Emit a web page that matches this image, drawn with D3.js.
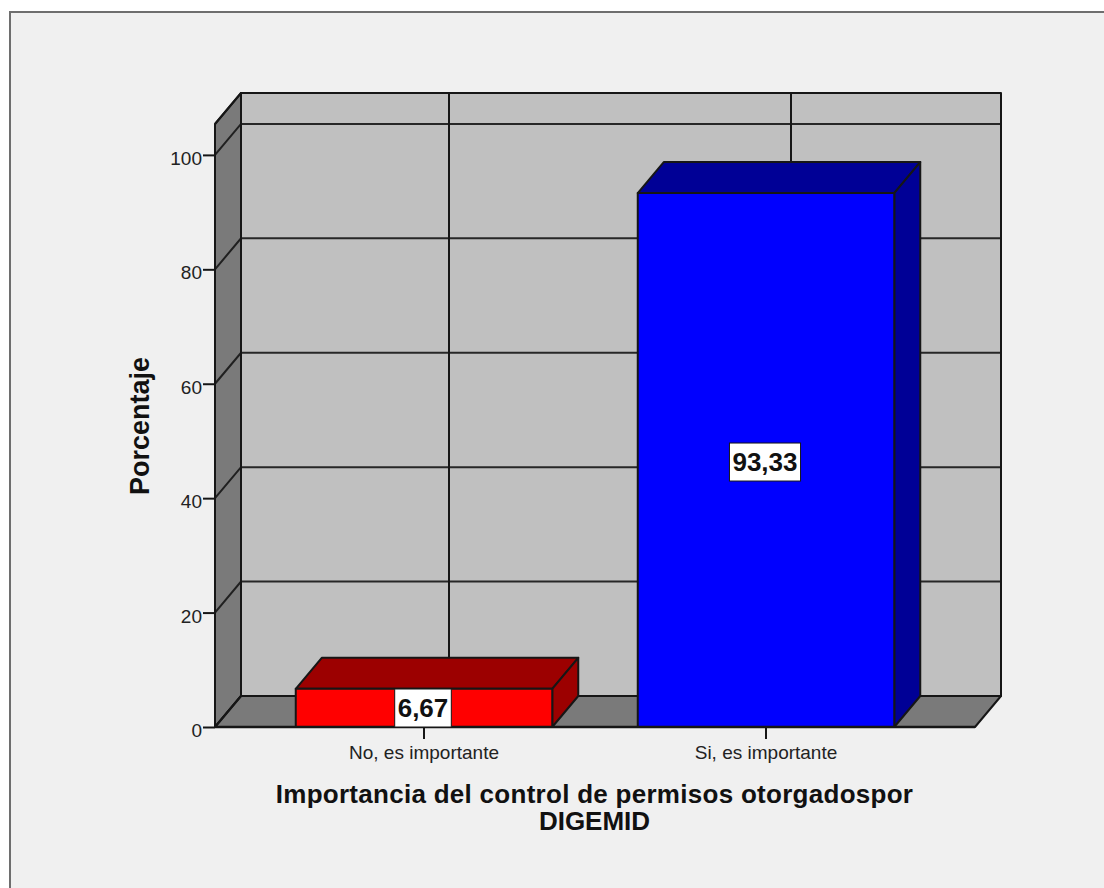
<!DOCTYPE html>
<html>
<head>
    <meta charset="utf-8">
    <script src="https://d3js.org/d3.v7.min.js"></script>
    <style>
        html, body { margin: 0; padding: 0; background: #fff; }
        svg { display: block; }
        text { font-family: "Liberation Sans", Arial, sans-serif; }
    </style>
</head>
<body>
    <svg></svg>
<script>
    // Data
    var categories = ["No, es importante", "Si, es importante"];
    var values = [6.67, 93.33];
    var valueLabels = ["6,67", "93,33"];
    var yTicks = [0, 20, 40, 60, 80, 100];
    var yTitle = "Porcentaje";
    var xTitle = ["Importancia del control de permisos otorgadospor", "DIGEMID"];

    // Colours per bar: front face, top and side
    var frontColors = ["#ff0000", "#0000ff"];
    var shadeColors = ["#9c0000", "#000096"];

    // Variables
    var width = 1104, height = 888;
    var line = "#161616";
    var depthX = 26, depthY = -31;

    var svg = d3.select("svg").attr("width", width).attr("height", height);

    // Scales of the front plane
    var y = d3.scaleLinear().domain([0, 105.4]).range([727, 124]);
    var x = d3.scaleBand().domain(categories).range([253, 937]);
    var barWidth = x.bandwidth() * 0.75;
    var left = 215, right = 975;
    var yMax = y.domain()[1];

    function poly(points, fill, sw) {
        return svg.append("path")
            .attr("d", d3.line()(points) + "Z")
            .attr("fill", fill)
            .attr("stroke", line)
            .attr("stroke-width", sw || 2)
            .attr("stroke-linejoin", "round");
    }

    // Panel
    svg.append("rect")
        .attr("x", 10).attr("y", 12)
        .attr("width", width + 10).attr("height", height + 10)
        .attr("fill", "#f0f0f0").attr("stroke", "#6e6e6e").attr("stroke-width", 2);

    // Back wall, left wall and floor
    poly([[left + depthX, y(yMax) + depthY], [right + depthX, y(yMax) + depthY], [right + depthX, y(0) + depthY], [left + depthX, y(0) + depthY]], "#c0c0c0");
    poly([[left, y(yMax)], [left + depthX, y(yMax) + depthY], [left + depthX, y(0) + depthY], [left, y(0)]], "#7a7a7a");
    poly([[left, y(0)], [left + depthX, y(0) + depthY], [right + depthX, y(0) + depthY], [right, y(0)]], "#7a7a7a");

    // Gridlines on the back wall and left wall
    yTicks.concat([yMax]).forEach(function (t) {
        svg.append("path")
            .attr("d", d3.line()([[left, y(t)], [left + depthX, y(t) + depthY], [right + depthX, y(t) + depthY]]))
            .attr("fill", "none").attr("stroke", line).attr("stroke-width", 2).attr("opacity", 0.9);
    });
    categories.forEach(function (c) {
        var gx = x(c) + x.bandwidth() / 2 + depthX - 1;
        svg.append("line")
            .attr("x1", gx).attr("x2", gx)
            .attr("y1", y(yMax) + depthY).attr("y2", y(0) + depthY)
            .attr("stroke", line).attr("stroke-width", 2);
    });

    // Axes
    var yAxis = svg.append("g")
        .attr("transform", "translate(" + left + ",0)")
        .call(d3.axisLeft(y).tickValues(yTicks).tickSize(12).tickPadding(1));
    yAxis.select(".domain").remove();
    yAxis.selectAll("line").attr("stroke", line).attr("stroke-width", 2);
    yAxis.selectAll("text").attr("font-size", 19).attr("font-family", "Liberation Sans").attr("fill", "#222").attr("dy", "0.5em");

    var xAxis = svg.append("g")
        .attr("transform", "translate(0," + y(0) + ")")
        .call(d3.axisBottom(x).tickSize(12).tickPadding(7));
    xAxis.select(".domain").remove();
    xAxis.selectAll("line").attr("stroke", line).attr("stroke-width", 2);
    xAxis.selectAll("text").attr("font-size", 19).attr("font-family", "Liberation Sans").attr("fill", "#222");

    // Bars
    categories.forEach(function (c, i) {
        var x0 = x(c) + x.bandwidth() / 2 - barWidth / 2;
        var x1 = x0 + barWidth;
        var top = y(values[i]);
        poly([[x0, top], [x0 + depthX, top + depthY], [x1 + depthX, top + depthY], [x1, top]], shadeColors[i]);
        poly([[x1, top], [x1 + depthX, top + depthY], [x1 + depthX, y(0) + depthY], [x1, y(0)]], shadeColors[i]);
        poly([[x0, top], [x1, top], [x1, y(0)], [x0, y(0)]], frontColors[i]);
    });

    // Floor front edge sits above the bars
    svg.append("line")
        .attr("x1", left).attr("x2", right)
        .attr("y1", y(0)).attr("y2", y(0))
        .attr("stroke", line).attr("stroke-width", 2.5);

    // Value labels
    categories.forEach(function (c, i) {
        var cx = x(c) + x.bandwidth() / 2 - 1;
        var cy = Math.min(y(values[i] / 2) + 2, y(0) - 19);
        var box = svg.append("rect");
        var t = svg.append("text")
            .attr("x", cx).attr("y", cy + 9)
            .attr("text-anchor", "middle")
            .attr("font-size", 26).attr("font-weight", "bold")
            .attr("fill", "#111")
            .text(valueLabels[i]);
        var b = t.node().getBBox();
        box.attr("x", b.x - 3).attr("y", cy - 19)
            .attr("width", b.width + 6).attr("height", 38)
            .attr("fill", "#fff").attr("stroke", line).attr("stroke-width", 1);
    });

    // Axis titles
    svg.append("text")
        .attr("transform", "translate(149,426) rotate(-90)")
        .attr("text-anchor", "middle")
        .attr("font-size", 27).attr("font-weight", "bold").attr("fill", "#111")
        .text(yTitle);

    svg.selectAll(".xtitle").data(xTitle).enter().append("text")
        .attr("class", "xtitle")
        .attr("x", 594.5)
        .attr("y", function (d, i) { return 803 + i * 27; })
        .attr("text-anchor", "middle")
        .attr("font-size", 26).attr("font-weight", "bold").attr("fill", "#111")
        .attr("letter-spacing", function (d, i) { return i ? 0 : 0.28; })
        .text(function (d) { return d; });
</script>
</body>
</html>
